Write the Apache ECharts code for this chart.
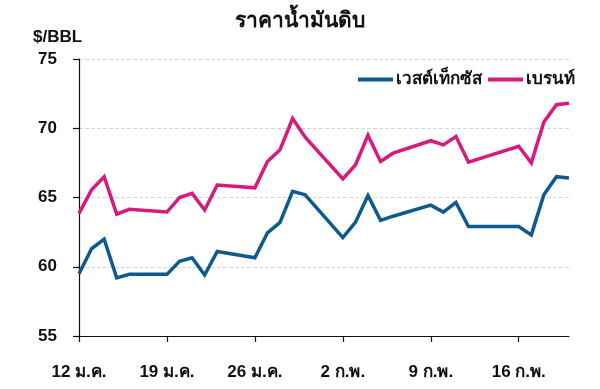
<!DOCTYPE html>
<html>
<head>
<meta charset="utf-8">
<script src="https://cdn.jsdelivr.net/npm/echarts@6/dist/echarts.min.js"></script>
<style>
html,body{margin:0;padding:0;background:#fff;}
#chart{width:600px;height:389px;}
</style>
</head>
<body>
<div id="chart"></div>
<script>
// Calendar days from 12 ม.ค. to 20 ก.พ. (weekends / missing days = null)
const categories = [
  '12 ม.ค.','13 ม.ค.','14 ม.ค.','15 ม.ค.','16 ม.ค.','17 ม.ค.','18 ม.ค.',
  '19 ม.ค.','20 ม.ค.','21 ม.ค.','22 ม.ค.','23 ม.ค.','24 ม.ค.','25 ม.ค.',
  '26 ม.ค.','27 ม.ค.','28 ม.ค.','29 ม.ค.','30 ม.ค.','31 ม.ค.','1 ก.พ.',
  '2 ก.พ.','3 ก.พ.','4 ก.พ.','5 ก.พ.','6 ก.พ.','7 ก.พ.','8 ก.พ.',
  '9 ก.พ.','10 ก.พ.','11 ก.พ.','12 ก.พ.','13 ก.พ.','14 ก.พ.','15 ก.พ.',
  '16 ก.พ.','17 ก.พ.','18 ก.พ.','19 ก.พ.','20 ก.พ.'
];
const wti = [
  59.5, 61.3, 62.0, 59.2, 59.45, null, null,
  59.45, 60.4, 60.65, 59.4, 61.1, null, null,
  60.65, 62.45, 63.2, 65.45, 65.2, null, null,
  62.1, 63.2, 65.15, 63.35, 63.65, null, null,
  64.45, 63.95, 64.65, 62.9, null, null, null,
  62.9, 62.3, 65.2, 66.5, 66.4
];
const brent = [
  63.85, 65.55, 66.5, 63.8, 64.15, null, null,
  63.95, 65.0, 65.3, 64.1, 65.9, null, null,
  65.7, 67.6, 68.45, 70.7, 69.35, null, null,
  66.35, 67.35, 69.5, 67.6, 68.2, null, null,
  69.1, 68.8, 69.4, 67.55, null, null, null,
  68.7, 67.5, 70.45, 71.7, 71.8
];
const seriesNames = ['เวสต์เท็กซัส', 'เบรนท์'];
const yTicks = { min: 55, max: 75, step: 5 };
const titleText = 'ราคาน้ำมันดิบ';
const unitText = '$/BBL';

const FONT = '"Liberation Sans", Arial, sans-serif';
const chart = echarts.init(document.getElementById('chart'), null, {renderer: 'canvas'});
chart.setOption({
  animation: false,
  backgroundColor: '#ffffff',
  title: [
    {text: titleText, left: 'center', top: 6,
     textStyle: {fontFamily: FONT, fontSize: 21, fontWeight: 'bold', color: '#111'}},
    {text: unitText, left: 28, top: 24,
     textStyle: {fontFamily: FONT, fontSize: 17, fontWeight: 'bold', color: '#111'}}
  ],
  legend: {
    right: 20, top: 66,
    icon: 'rect', itemWidth: 35, itemHeight: 4, itemGap: 6,
    textStyle: {fontFamily: FONT, fontSize: 17, fontWeight: 'bold', color: '#111', padding: [0,0,0,-2]},
    data: seriesNames
  },
  grid: {left: 79, right: 31, top: 59, bottom: 53, containLabel: false},
  xAxis: {
    type: 'category',
    data: categories,
    boundaryGap: false,
    axisLine: {lineStyle: {color: '#111', width: 1.2}},
    axisTick: {show: true, interval: 6, length: 6, inside: false, lineStyle: {color: '#111', width: 1.2}},
    axisLabel: {interval: 6, margin: 28, fontFamily: FONT, fontSize: 17, fontWeight: 'bold', color: '#111'},
    splitLine: {show: false}
  },
  yAxis: {
    type: 'value',
    min: yTicks.min, max: yTicks.max, interval: yTicks.step,
    axisLine: {show: true, lineStyle: {color: '#111', width: 1.2}},
    axisTick: {show: true, length: 6, inside: false, lineStyle: {color: '#111', width: 1.2}},
    axisLabel: {margin: 22, fontFamily: FONT, fontSize: 17, fontWeight: 'bold', color: '#111'},
    splitLine: {show: true, lineStyle: {color: '#d6d6d6', type: [4, 2], width: 1}}
  },
  series: [
    {name: seriesNames[0], type: 'line', data: wti, connectNulls: true,
     showSymbol: false, symbol: 'none', color: '#0f5a8c',
     lineStyle: {width: 3.5, color: '#0f5a8c', join: 'miter'}},
    {name: seriesNames[1], type: 'line', data: brent, connectNulls: true,
     showSymbol: false, symbol: 'none', color: '#d81b7b',
     lineStyle: {width: 3.5, color: '#d81b7b', join: 'miter'}}
  ]
});
</script>
</body>
</html>
